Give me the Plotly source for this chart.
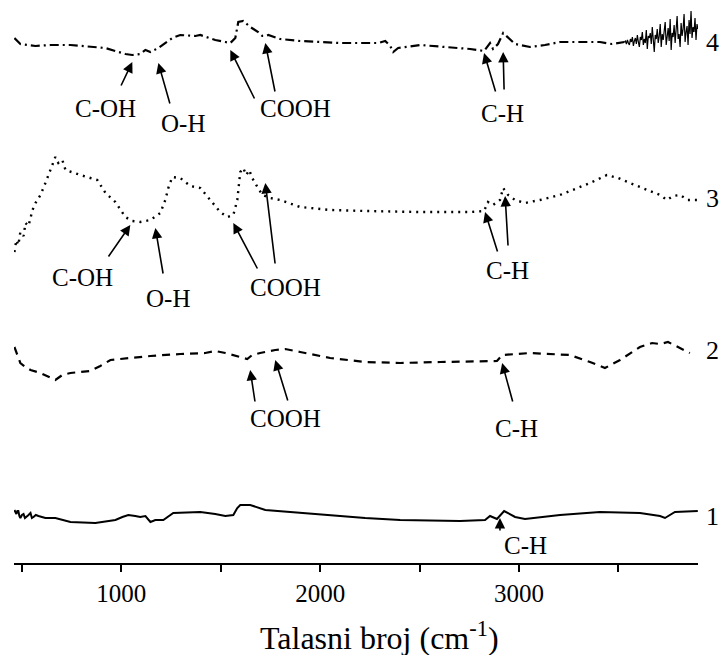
import plotly.graph_objects as go

# ---- data (wavenumber cm^-1, offset transmittance a.u.) ----
wn1 = [462, 467, 472, 477, 482, 487, 492, 500, 508, 515, 523, 533, 543, 550, 558, 570, 583, 600, 618,
       668, 744, 869, 970, 1005, 1035, 1070, 1095,
       1121, 1146, 1171, 1211, 1261, 1397, 1472, 1523, 1563, 1583, 1598, 1648, 1724, 1899, 2100, 2226,
       2402, 2703, 2829, 2854, 2889, 2925, 2980, 3030, 3206, 3407, 3608, 3709, 3734, 3784, 3899]
s1 = [53, 50, 49, 52, 52, 47, 45, 48, 49, 45, 46, 48, 50, 45, 46, 48, 47, 46, 45,
      45, 41, 40, 43, 46, 48, 47, 46,
      47, 41, 43, 43, 50, 51, 49, 47, 48, 55, 58, 58, 53, 50, 47, 45,
      43, 42, 43, 47, 44, 52, 46, 44, 48, 51, 50, 47, 45, 51, 52]

wn2 = [462, 477, 492, 518, 543, 593, 643, 668, 703, 744, 794, 844, 894, 945, 995, 1146, 1296, 1422,
       1472, 1523, 1598, 1633, 1658, 1698, 1774, 1824, 1899, 2050, 2226, 2402, 2603, 2804, 2889, 2915,
       3055, 3256, 3357, 3432, 3508, 3608, 3669, 3709, 3749, 3809, 3859]
s2 = [216, 207, 200, 196, 193, 190, 185, 183, 188, 190, 191, 192, 197, 203, 204, 207, 209, 210,
      212, 210, 206, 204, 208, 210, 213, 214, 211, 205, 201, 200, 201, 202, 202, 208,
      210, 208, 201, 195, 203, 216, 220, 219, 221, 215, 210]

wn3 = [462, 472, 482, 492, 508, 518, 533, 553, 568, 593, 618, 643, 668, 683, 703, 719, 754, 794,
       844, 879, 920, 970, 1020, 1055, 1095, 1146, 1196, 1221, 1236, 1256, 1296, 1347, 1397, 1447,
       1497, 1533, 1563, 1583, 1598, 1613, 1628, 1643, 1658, 1678, 1709, 1749, 1799, 1899, 2050,
       2226, 2502, 2754, 2824, 2844, 2869, 2904, 2920, 2945, 2980, 3030, 3105, 3206, 3357, 3442,
       3498, 3558, 3633, 3709, 3744, 3774, 3809, 3849, 3899]
s3 = [311, 323, 318, 331, 327, 340, 337, 353, 360, 368, 380, 393, 406, 400, 403, 393, 391, 388,
      385, 383, 370, 361, 346, 342, 341, 343, 350, 363, 375, 386, 385, 377, 375, 363,
      351, 346, 348, 363, 391, 395, 388, 393, 385, 378, 368, 365, 363, 356, 353,
      352, 351, 351, 352, 361, 358, 363, 375, 368, 363, 360, 363, 368, 380, 388,
      385, 380, 374, 368, 363, 367, 368, 363, 363]

wn4 = [462, 492, 568, 643, 744, 844, 920, 970, 1020, 1055, 1095, 1121, 1146, 1186, 1221, 1256, 1296,
       1372, 1397, 1447, 1472, 1523, 1548, 1573, 1588, 1613, 1648, 1688, 1709, 1724, 1739, 1799, 1899,
       2000, 2100, 2226, 2291, 2327, 2352, 2367, 2392, 2502, 2628, 2754, 2824, 2839, 2854, 2869, 2894,
       2920, 2945, 2980, 3055, 3130, 3206, 3306, 3407, 3467, 3530]
s4 = [525, 519, 517, 518, 518, 516, 515, 512, 509, 508, 509, 513, 511, 515, 520, 525, 528,
      527, 528, 525, 523, 521, 520, 525, 541, 542, 536, 531, 527, 527, 528, 524, 522,
      521, 520, 520, 520, 522, 517, 511, 515, 518, 516, 514, 512, 516, 520, 514, 519,
      530, 525, 519, 516, 518, 521, 521, 521, 519, 521]

# noisy high-wavenumber end of spectrum 4 (5 cm^-1 sampling)
wn4n = list(range(3530, 3905, 5))
s4n = [521, 522, 519, 523, 520, 518, 524, 521, 526, 517, 522, 525, 519, 528, 521,
       516, 526, 523, 531, 518, 524, 520, 533, 514, 527, 525, 530, 519, 536, 522,
       511, 528, 524, 534, 520, 527, 539, 516, 529, 523, 531, 541, 518, 527, 535,
       522, 544, 513, 530, 526, 538, 520, 532, 547, 524, 529, 516, 540, 527, 534,
       549, 521, 531, 537, 518, 543, 529, 552, 525, 536, 531, 545, 523, 539, 534]

tick_vals = [500, 1000, 1500, 2000, 2500, 3000, 3500]
tick_text = ["", "1000", "", "2000", "", "3000", ""]

curve_labels = ["1", "2", "3", "4"]
curve_label_y = [47, 213, 365, 521]

x_title = "Talasni broj (cm<sup>-1</sup>)"

# annotation texts: (text, x, y)
band_texts = [
    ("C-OH", 920, 455), ("O-H", 1312, 440), ("COOH", 1874, 455), ("C-H", 2915, 450),
    ("C-OH", 804, 286), ("O-H", 1236, 265), ("COOH", 1824, 276), ("C-H", 2940, 293),
    ("COOH", 1824, 145), ("C-H", 2985, 135),
    ("C-H", 3030, 18),
]
# arrows: (tip_x, tip_y, tail_x, tail_y)
band_arrows = [
    (1055, 501, 995, 476), (1186, 500, 1246, 458), (1548, 513, 1673, 463), (1724, 520, 1774, 470),
    (2824, 510, 2884, 470), (2920, 511, 2925, 472),
    (1045, 338, 930, 305), (1171, 335, 1211, 288), (1563, 340, 1688, 293), (1724, 380, 1774, 298),
    (2829, 351, 2894, 310), (2930, 367, 2945, 316),
    (1648, 193, 1673, 160), (1774, 203, 1839, 161), (2915, 200, 2970, 160),
    (2904, 45, 2904, 31),
]

FONT = "Liberation Serif, Times New Roman, serif"

fig = go.Figure()
fig.add_trace(go.Scatter(x=wn1, y=s1, mode="lines", line=dict(color="black", width=2)))
fig.add_trace(go.Scatter(x=wn2, y=s2, mode="lines", line=dict(color="black", width=2.2, dash="8px,6px")))
fig.add_trace(go.Scatter(x=wn3, y=s3, mode="lines", line=dict(color="black", width=2.4, dash="2px,5px")))
fig.add_trace(go.Scatter(x=wn4, y=s4, mode="lines", line=dict(color="black", width=2.2, dash="9px,4px,2px,4px")))
fig.add_trace(go.Scatter(x=wn4n, y=s4n, mode="lines", line=dict(color="black", width=1.2)))

ann = []
for t, x, y in band_texts:
    ann.append(dict(text=t, x=x, y=y, xref="x", yref="y", showarrow=False,
                    font=dict(family=FONT, size=25, color="black")))
for tx, ty, ax, ay in band_arrows:
    ann.append(dict(text="", x=tx, y=ty, ax=ax, ay=ay, xref="x", yref="y", axref="x", ayref="y",
                    showarrow=True, arrowhead=2, arrowsize=1.3, arrowwidth=1.6, arrowcolor="black"))
for lab, y in zip(curve_labels, curve_label_y):
    ann.append(dict(text=lab, x=1.0205, y=y, xref="paper", yref="y", showarrow=False,
                    xanchor="center", font=dict(family=FONT, size=26, color="black")))
# x-axis title (placed slightly right of centre, as in the original)
ann.append(dict(text=x_title, x=0.535, y=-0.131, xref="paper", yref="paper", showarrow=False,
                xanchor="center", yanchor="middle", font=dict(family=FONT, size=32, color="black")))

# page body adds an 8px margin around the figure, so the figure is offset to fit inside it
fig.update_layout(
    width=711, height=647,
    margin=dict(l=6, r=21, t=0, b=92),
    paper_bgcolor="white", plot_bgcolor="white",
    showlegend=False,
    annotations=ann,
    font=dict(family=FONT, color="black"),
)
fig.update_xaxes(range=[460, 3900], showline=True, linecolor="black", linewidth=2,
                 ticks="outside", ticklen=7, tickwidth=2, tickcolor="black",
                 tickvals=tick_vals, ticktext=tick_text, showgrid=False, zeroline=False,
                 tickfont=dict(family=FONT, size=25, color="black"))
fig.update_yaxes(range=[0, 555], visible=False, showgrid=False, zeroline=False)

fig.write_html("out.html")
